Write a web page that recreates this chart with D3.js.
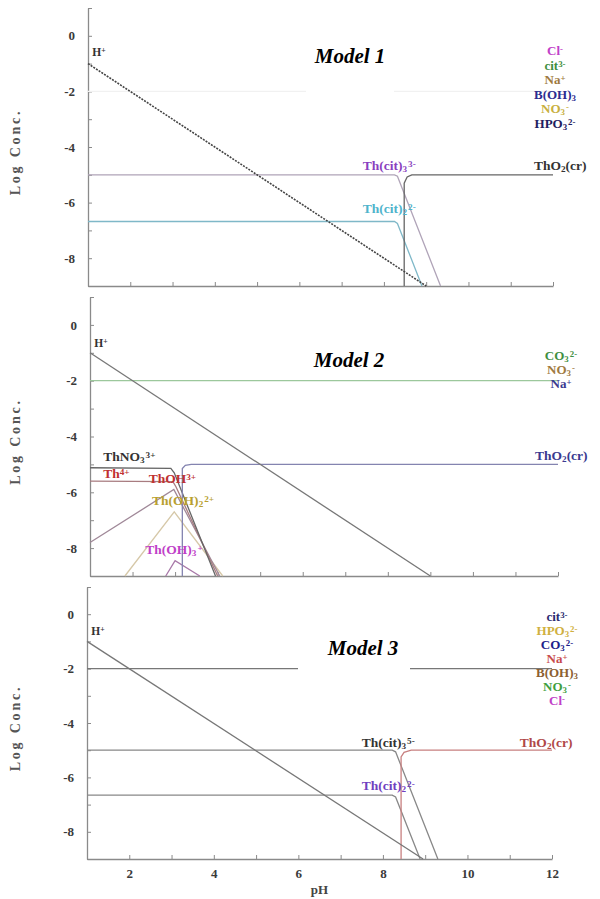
<!DOCTYPE html>
<html>
<head>
<meta charset="utf-8">
<script src="https://cdn.jsdelivr.net/npm/d3@7"></script>
<style>
  body { margin: 0; background: #fff; }
  svg { display: block; font-family: "Liberation Serif", "Times New Roman", serif; }
</style>
</head>
<body>
<svg id="chart"></svg>
<script>
const width = 600, height = 899;

// shared axes
const pHTicks = d3.range(1, 13);
const logTicks = d3.range(1, -10, -1);

// ---- Model 1 (pH, log conc.) ----
const m1_H = [[1, -1], [9, -9]];
const m1_anions = [[1, -2], [12, -2]];
const m1_ThCit3 = [[1, -5], [8.25, -5], [8.32, -5.05], [9.34, -9]];
const m1_ThCit2 = [[1, -6.68], [8.25, -6.68], [8.32, -6.75], [8.9, -9]];
const m1_ThO2 = [[8.48, -9], [8.48, -5.3], [8.55, -5.08], [8.66, -5], [12, -5]];
const m1_ions = ["Cl^-", "cit^{3-}", "Na^+", "B(OH)_3", "NO_3^-", "HPO_3^{2-}"];
const m1_labels = [
  { text: "H^+", pH: 1.1, logC: -0.72 },
  { text: "Th(cit)_3^{3-}", pH: 7.5, logC: -4.82 },
  { text: "ThO_2(cr)", pH: 11.55, logC: -4.82 },
  { text: "Th(cit)_2^{2-}", pH: 7.5, logC: -6.38 }
];

// ---- Model 2 ----
const m2_H = [[1, -1], [9, -9]];
const m2_anions = [[1, -2], [12, -2]];
const m2_ThO2 = [[3.17, -9], [3.17, -5.15], [3.24, -5.03], [3.38, -5], [12, -5]];
const m2_ThNO3 = [[1, -5.12], [2.9, -5.14], [2.98, -5.3], [3.95, -9]];
const m2_Th4 = [[1, -5.6], [2.95, -5.62], [3.02, -5.8], [4.0, -9]];
const m2_ThOH = [[1, -7.8], [2.97, -5.9], [4.05, -9]];
const m2_ThOH2 = [[1.82, -9], [2.98, -6.7], [4.12, -9]];
const m2_ThOH3 = [[2.78, -9], [3.0, -8.45], [3.58, -9]];
const m2_ions = ["CO_3^{2-}", "NO_3^-", "Na^+"];
const m2_labels = [
  { text: "H^+", pH: 1.1, logC: -0.78 },
  { text: "ThNO_3^{3+}", pH: 1.31, logC: -4.88 },
  { text: "Th^{4+}", pH: 1.31, logC: -5.48 },
  { text: "ThOH^{3+}", pH: 2.38, logC: -5.68 },
  { text: "Th(OH)_2^{2+}", pH: 2.46, logC: -6.45 },
  { text: "Th(OH)_3^+", pH: 2.3, logC: -8.2 },
  { text: "ThO_2(cr)", pH: 11.46, logC: -4.84 }
];

// ---- Model 3 ----
const m3_H = [[1, -1], [8.95, -9]];
const m3_anions = [[1, -2], [12, -2]];
const m3_ThCit3 = [[1, -5], [8.22, -5], [8.3, -5.06], [9.3, -9]];
const m3_ThCit2 = [[1, -6.65], [8.22, -6.65], [8.3, -6.72], [8.88, -9]];
const m3_ThO2 = [[8.43, -9], [8.43, -5.25], [8.5, -5.08], [8.67, -5], [12, -5]];
const m3_ions = ["cit^{3-}", "HPO_3^{2-}", "CO_3^{2-}", "Na^+", "B(OH)_3", "NO_3^-", "Cl^-"];
const m3_labels = [
  { text: "H^+", pH: 1.1, logC: -0.76 },
  { text: "Th(cit)_3^{5-}", pH: 7.5, logC: -4.87 },
  { text: "ThO_2(cr)", pH: 11.24, logC: -4.87 },
  { text: "Th(cit)_2^{2-}", pH: 7.5, logC: -6.46 }
];

// styles
const panels = [
  {
    title: "Model 1", xr: [88, 553], yr: [8, 286], titleAt: [350, 63],
    box: [306, 72, 88, 26], ionsAt: [555, 55], ionStep: 14.6,
    lines: [
      { d: m1_anions, c: "#f1f1f1" },
      { d: m1_ThCit2, c: "#7fb8c8" },
      { d: m1_ThCit3, c: "#b0a4b8" },
      { d: m1_ThO2, c: "#666" },
      { d: m1_H, c: "#444", dash: "2,1.2" }
    ],
    labels: m1_labels, labelColors: ["#333", "#8a3fc0", "#333", "#4fb4cc"],
    ions: m1_ions, ionColors: ["#c040c8", "#3f8f3f", "#a07a40", "#2c2c90", "#c8b040", "#1e2060"],
    xLabels: false
  },
  {
    title: "Model 2", xr: [90, 558], yr: [297, 576], titleAt: [349, 367],
    box: null, ionsAt: [561, 360], ionStep: 14,
    lines: [
      { d: m2_anions, c: "#9cc89c" },
      { d: m2_ThOH2, c: "#d6c8a8" },
      { d: m2_ThOH3, c: "#a878a8" },
      { d: m2_ThOH, c: "#a08898" },
      { d: m2_Th4, c: "#a87c80" },
      { d: m2_ThNO3, c: "#666" },
      { d: m2_ThO2, c: "#8484b0" },
      { d: m2_H, c: "#777" }
    ],
    labels: m2_labels, labelColors: ["#333", "#333", "#c03030", "#c03030", "#b8a030", "#c040c8", "#3a3a90"],
    ions: m2_ions, ionColors: ["#3f8f3f", "#a07a40", "#3a3a90"],
    xLabels: false
  },
  {
    title: "Model 3", xr: [87, 552], yr: [587, 859], titleAt: [363, 655],
    box: [298, 634, 112, 40], ionsAt: [557, 621], ionStep: 14,
    lines: [
      { d: m3_anions, c: "#777" },
      { d: m3_ThCit2, c: "#888" },
      { d: m3_ThCit3, c: "#888" },
      { d: m3_ThO2, c: "#c88080" },
      { d: m3_H, c: "#777" }
    ],
    labels: m3_labels, labelColors: ["#333", "#333", "#b04848", "#7040c0"],
    ions: m3_ions, ionColors: ["#2c2c70", "#d0b040", "#20208a", "#c84c4c", "#8c6030", "#3f9f3f", "#c040c8"],
    xLabels: true
  }
];

const svg = d3.select("#chart").attr("width", width).attr("height", height);

// text with _sub and ^super parts
function rich(sel, str, size) {
  const re = /([_^])(\{[^}]*\}|.)|[^_^]+/g;
  let m, prev = null;
  while ((m = re.exec(str))) {
    if (m[1]) {
      const sup = m[1] === "^";
      sel.append("tspan")
        .attr("font-size", size * 0.68)
        .attr("baseline-shift", sup ? size * 0.26 : -size * 0.12)
        .attr("dx", sup && prev === "_" ? 1 : null)
        .text(m[2].replace(/[{}]/g, ""));
      prev = m[1];
    } else {
      sel.append("tspan").text(m[0]);
      prev = null;
    }
  }
  return sel;
}

panels.forEach((p) => {
  const x = d3.scaleLinear().domain([1, 12]).range(p.xr);
  const y = d3.scaleLinear().domain([1, -9]).range(p.yr);
  const g = svg.append("g");

  // axes
  const yAxis = g.append("g")
    .attr("transform", `translate(${p.xr[0]},0)`)
    .call(d3.axisLeft(y).tickValues(logTicks).tickSizeInner(-4).tickSizeOuter(0)
      .tickPadding(13).tickFormat((d) => (d % 2 === 0 && d <= 0 ? String(d) : "")));
  const xAxis = g.append("g")
    .attr("transform", `translate(0,${p.yr[1]})`)
    .call(d3.axisBottom(x).tickValues(pHTicks).tickSizeInner(-4).tickSizeOuter(0)
      .tickPadding(10).tickFormat((d) => (p.xLabels && d % 2 === 0 ? String(d) : "")));
  [yAxis, xAxis].forEach((a) => {
    a.attr("font-family", null);
    a.select(".domain").attr("stroke", "#8a8a8a").attr("stroke-width", 1.3);
    a.selectAll(".tick line").attr("stroke", "#8a8a8a");
    a.selectAll(".tick text").attr("fill", "#3a3a3a").attr("font-size", 13)
      .attr("font-weight", "bold");
  });
  yAxis.selectAll(".tick text").attr("text-anchor", "end");

  g.append("text")
    .attr("transform", `translate(20,${(p.yr[0] + p.yr[1]) / 2 + 5}) rotate(-90)`)
    .attr("text-anchor", "middle")
    .attr("font-size", 14).attr("font-weight", "bold").attr("letter-spacing", 2.8)
    .attr("fill", "#555")
    .text("Log Conc.");

  // curves
  const line = d3.line().x((d) => x(d[0])).y((d) => y(d[1]));
  g.selectAll("path.curve").data(p.lines).join("path")
    .attr("class", "curve")
    .attr("d", (d) => line(d.d))
    .attr("fill", "none")
    .attr("stroke", (d) => d.c)
    .attr("stroke-width", (d) => (d.dash ? 1.6 : 1.3))
    .attr("stroke-dasharray", (d) => d.dash || null);

  // title
  if (p.box) {
    g.append("rect").attr("x", p.box[0]).attr("y", p.box[1])
      .attr("width", p.box[2]).attr("height", p.box[3]).attr("fill", "#fff");
  }
  g.append("text")
    .attr("x", p.titleAt[0]).attr("y", p.titleAt[1])
    .attr("text-anchor", "middle")
    .attr("font-size", 21).attr("font-weight", "bold").attr("font-style", "italic")
    .attr("fill", "#000")
    .text(p.title);

  // species labels
  p.labels.forEach((l, i) => {
    const isH = l.text === "H^+";
    const fs = isH ? 11.5 : 13.5;
    rich(g.append("text")
      .attr("x", x(l.pH)).attr("y", y(l.logC))
      .attr("font-size", fs).attr("font-weight", "bold")
      .attr("fill", p.labelColors[i]), l.text, fs);
  });

  // ion list at right
  p.ions.forEach((t, i) => {
    rich(g.append("text")
      .attr("x", p.ionsAt[0]).attr("y", p.ionsAt[1] + i * p.ionStep)
      .attr("text-anchor", "middle")
      .attr("font-size", 13).attr("font-weight", "bold")
      .attr("fill", p.ionColors[i]), t, 13);
  });

  if (p.xLabels) {
    g.append("text")
      .attr("x", (p.xr[0] + p.xr[1]) / 2).attr("y", 894)
      .attr("text-anchor", "middle")
      .attr("font-size", 13).attr("font-weight", "bold").attr("fill", "#444")
      .text("pH");
  }
});
</script>
</body>
</html>
